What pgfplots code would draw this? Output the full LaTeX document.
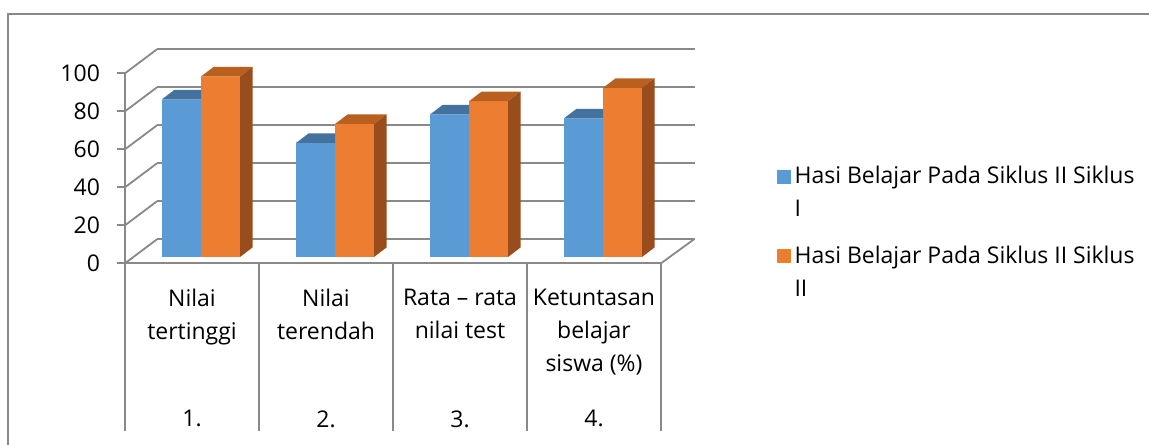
\documentclass[border=0pt]{standalone}
\usepackage{fontspec}
\setmainfont{Open Sans}
\usepackage{pgfplots}
\pgfplotsset{compat=1.18}
\definecolor{bfront}{HTML}{5B9BD5}
\definecolor{btop}{HTML}{43729E}
\definecolor{ofront}{HTML}{ED7D31}
\definecolor{otop}{HTML}{B9601F}
\definecolor{oside}{HTML}{994D1C}
\definecolor{gridc}{HTML}{898989}
\newcommand{\twoline}[2]{\vtop{\baselineskip=16.5pt\hbox{#1}\hbox{#2}}}
\begin{document}
\begin{tikzpicture}[x=1pt,y=1pt]
\useasboundingbox (0,0) rectangle (574.5,222);
\draw[gridc, line width=1pt] (4,-2) -- (4,215) -- (580,215);
% back wall grid
\begin{axis}[at={(78.5pt,102.35pt)}, anchor=south west, x=67pt, y=0.95pt,
  xmin=0, xmax=4.015, ymin=0, ymax=100,
  axis line style={draw=none}, xtick=\empty, ytick={0,20,40,60,80,100},
  yticklabels={}, major tick length=0pt,
  ymajorgrids, grid style={gridc, line width=0.9pt}]
\addplot[draw=none] coordinates {(0,0)};
\end{axis}
% front frame
\begin{axis}[at={(62.5pt,90.35pt)}, anchor=south west, x=67pt, y=0.95pt,
  xmin=0, xmax=4, ymin=0, ymax=100,
  separate axis lines, axis x line=bottom, axis y line=left,
  axis line style={-, gridc, line width=1pt},
  font=\fontsize{11.5}{16.5}\selectfont,
  /pgf/number format/assume math mode=true,
  ytick={0,20,40,60,80,100}, tick align=outside, major tick length=4pt,
  ytick style={gridc, line width=1pt},
  yticklabel style={xshift=-5pt},
  xtick={0.5,1.5,2.5,3.5},
  xticklabels={{Nilai\\tertinggi},{Nilai\\terendah},{Rata – rata\\nilai test},{Ketuntasan\\belajar\\siswa (\%)}},
  xtick style={draw=none},
  xticklabel style={align=center, anchor=north, yshift=-5.5pt},
  extra x ticks={0.5,1.5,2.5,3.5},
  extra x tick labels={1.,2.,3.,4.},
  extra x tick style={major tick length=0pt, xticklabel style={yshift=-64.5pt}},
  clip=false]
\addplot[draw=none] coordinates {(0,0)};
\pgfplotsinvokeforeach{0,20,40,60,80,100}{\draw[gridc,line width=0.9pt] (axis cs:0,#1) -- ++(16pt,12pt);}
\draw[gridc, line width=0.9pt] (axis cs:4,0) -- ++(16.5pt,12pt);
\pgfplotsinvokeforeach{0,1,2,3,4}{\draw[gridc,line width=1pt] (axis cs:#1,0) -- ++(0,-84pt);}
\end{axis}
% bars
\begin{axis}[at={(67pt,93.5pt)}, anchor=south west, x=67pt, y=0.95pt,
  xmin=0, xmax=4, ymin=0, ymax=100, hide axis, clip=false,
  ybar, bar width=19.5pt,
  every node near coord/.style={anchor=center, inner sep=0pt, outer sep=0pt},
  legend image code/.code={\fill[#1] (0pt,0pt) rectangle (7pt,7pt);},
  legend style={at={(1.198,0.500)}, anchor=north west, draw=none, fill=none,
    font=\fontsize{11.5}{16.5}\selectfont, cells={anchor=base west},
    row sep=25.5pt, inner sep=0pt}]
\addplot[fill=bfront, draw=none, bar shift=-9.75pt,
  visualization depends on=rawy \as \rawy,
  nodes near coords={\begin{tikzpicture}
    \useasboundingbox (0,0);
    \fill[btop] (-19.5pt,0pt) -- ++(6.25pt,4.75pt) -- (0pt,4.75pt) -- (0pt,0pt) -- cycle;
  \end{tikzpicture}}]
  coordinates {(0.5,83) (1.5,60) (2.5,75) (3.5,73)};
\addlegendentry{\twoline{Hasi Belajar Pada Siklus II Siklus}{I}}
\addplot[fill=ofront, draw=none, bar shift=9.75pt,
  visualization depends on=rawy \as \rawy,
  nodes near coords={\begin{tikzpicture}
    \useasboundingbox (0,0);
    \fill[otop] (0pt,0pt) -- ++(6.25pt,4.75pt) -- ++(19.5pt,0pt) -- (19.5pt,0pt) -- cycle;
    \fill[oside] (19.5pt,0pt) -- ++(6.25pt,4.75pt) -- ++(0pt,-\rawy*0.95pt) -- (19.5pt,-\rawy*0.95pt) -- cycle;
  \end{tikzpicture}}]
  coordinates {(0.5,95) (1.5,70) (2.5,82) (3.5,89)};
\addlegendentry{\twoline{Hasi Belajar Pada Siklus II Siklus}{II}}
\end{axis}
\end{tikzpicture}
\end{document}
